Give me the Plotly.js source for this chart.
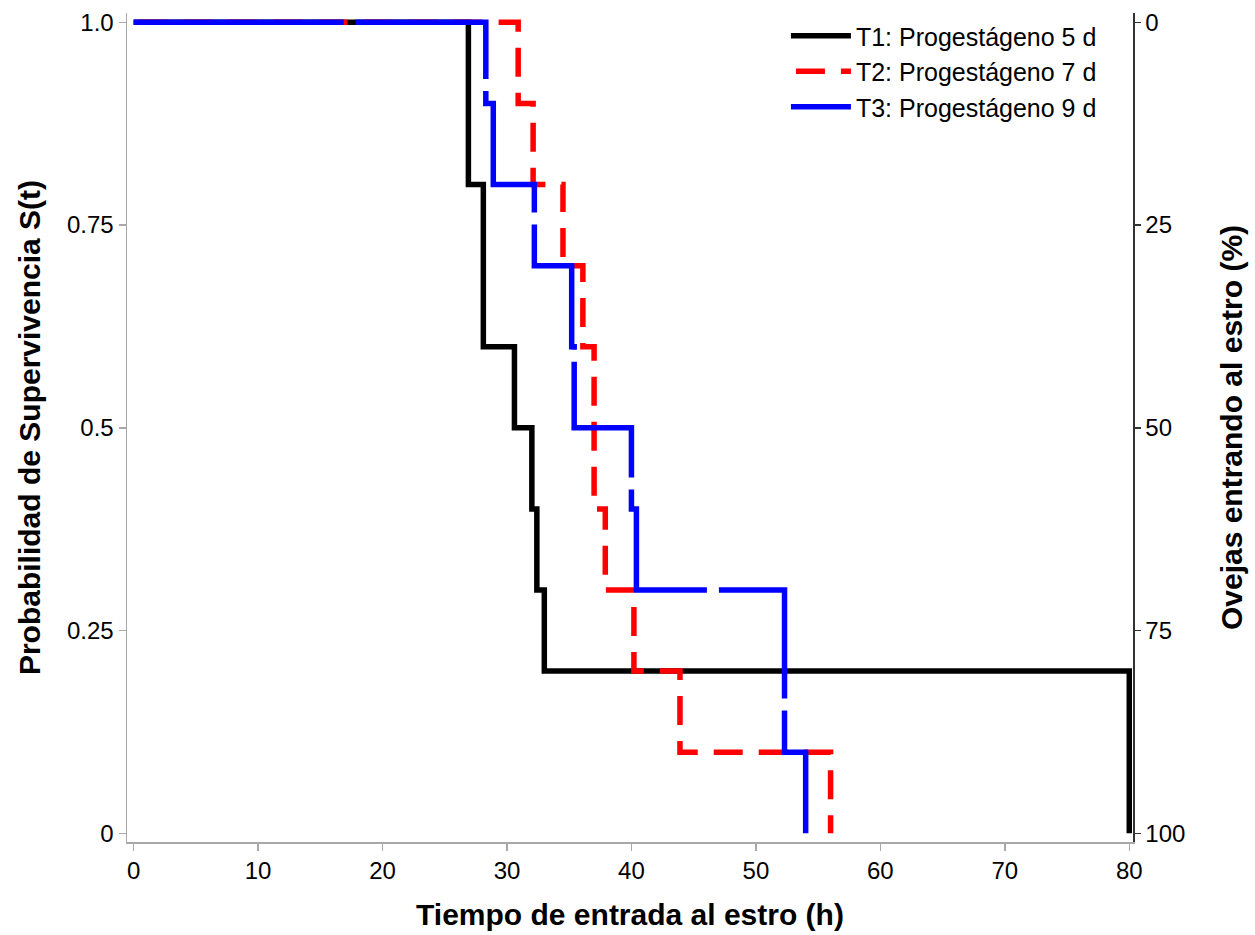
<!DOCTYPE html>
<html>
<head>
<meta charset="utf-8">
<script src="https://cdn.plot.ly/plotly-3.0.1.min.js"></script>
<style>html,body{margin:0;padding:0;background:#fff;}#chart{width:1255px;height:935px;}</style>
</head>
<body>
<div id="chart"></div>
<script>
// Kaplan-Meier curves (time in h, survival S(t))
const t1Time = [0, 26.9, 28.1, 30.6, 32.0, 32.4, 33.0, 80.0];
const t1Surv = [1.0, 0.8, 0.6, 0.5, 0.4, 0.3, 0.2, 0.0];
const t2Time = [0, 30.9, 32.1, 34.5, 36.1, 37.0, 37.9, 40.2, 43.9, 56.0];
const t2Surv = [1.0, 0.9, 0.8, 0.7, 0.6, 0.4, 0.3, 0.2, 0.1, 0.0];
const t3Time = [0, 28.3, 28.9, 32.2, 35.2, 35.4, 40.0, 40.4, 52.3, 54.0];
const t3Surv = [1.0, 0.9, 0.8, 0.7, 0.6, 0.5, 0.4, 0.3, 0.1, 0.0];
const seriesNames = ["T1: Progestágeno 5 d", "T2: Progestágeno 7 d", "T3: Progestágeno 9 d"];
const xTicks = [0, 10, 20, 30, 40, 50, 60, 70, 80];
const yTicks = [0, 0.25, 0.5, 0.75, 1.0];
const yTickText = ["0", "0.25", "0.5", "0.75", "1.0"];
const y2Ticks = [0, 25, 50, 75, 100];

const FONT = "Liberation Sans, Arial, sans-serif";

// line dash styles (phase-matched to the original rendering)
function repeatDash(lead, dash, gap, count) {
  const parts = lead.slice();
  for (let i = 0; i < count; i++) { parts.push(dash + "px", gap + "px"); }
  return parts.join(",");
}
const redDash = repeatDash(["0px", "5px"], 29, 16, 40);
const blueDash = ["210px","12px","187px","12px","170px","12px","165px","12px","173px","12px","176px","12px","174px","12px","600px"].join(",");

const traces = [
  {x: t1Time, y: t1Surv, name: seriesNames[0], mode: "lines",
   line: {shape: "hv", color: "#000000", width: 5.5}},
  {x: t2Time, y: t2Surv, name: seriesNames[1], mode: "lines",
   line: {shape: "hv", color: "#ff0000", width: 5.5, dash: redDash}},
  {x: t3Time, y: t3Surv, name: seriesNames[2], mode: "lines",
   line: {shape: "hv", color: "#0000ff", width: 5.5, dash: blueDash}},
  {x: [], y: [], yaxis: "y2", mode: "lines", showlegend: false, hoverinfo: "skip"}
];

const layout = {
  width: 1255, height: 935,
  margin: {l: 127, r: 122, t: 13, b: 93},
  paper_bgcolor: "#ffffff", plot_bgcolor: "#ffffff",
  font: {family: FONT, color: "#000000", size: 22},
  showlegend: true,
  legend: {x: 0.655, xanchor: "left", y: 1.0, yanchor: "top",
           bgcolor: "rgba(0,0,0,0)", borderwidth: 0, itemwidth: 60,
           tracegroupgap: 0,
           font: {family: FONT, size: 25, color: "#000"}},
  xaxis: {
    range: [-0.53, 80.3], tickvals: xTicks, showgrid: false, zeroline: false,
    showline: true, linecolor: "#a8a8a8", linewidth: 1.5,
    ticks: "outside", ticklen: 7, tickcolor: "#a8a8a8", tickwidth: 1.5,
    tickfont: {family: FONT, size: 24, color: "#000"},
    title: {text: "<b>Tiempo de entrada al estro (h)</b>", font: {family: FONT, size: 30, color: "#000"}, standoff: 20}
  },
  yaxis: {
    range: [-0.0107, 1.0115], tickvals: yTicks, ticktext: yTickText,
    showgrid: false, zeroline: false,
    showline: true, linecolor: "#a8a8a8", linewidth: 1.5,
    ticks: "outside", ticklen: 7, tickcolor: "#a8a8a8", tickwidth: 1.5,
    tickfont: {family: FONT, size: 24, color: "#000"},
    title: {text: "<b>Probabilidad de Supervivencia S(t)</b>", font: {family: FONT, size: 30, color: "#000"}, standoff: 17}
  },
  yaxis2: {
    overlaying: "y", side: "right", anchor: "x",
    range: [101.07, -1.15], tickvals: y2Ticks,
    showgrid: false, zeroline: false,
    showline: true, linecolor: "#333333", linewidth: 1.5,
    ticks: "outside", ticklen: 6, tickcolor: "#333333", tickwidth: 1.5,
    tickfont: {family: FONT, size: 24, color: "#000"},
    title: {text: "<b>Ovejas entrando al estro (%)</b>", font: {family: FONT, size: 30, color: "#000"}, standoff: 36}
  }
};

Plotly.newPlot("chart", traces, layout, {displayModeBar: false, staticPlot: true});
</script>
</body>
</html>
